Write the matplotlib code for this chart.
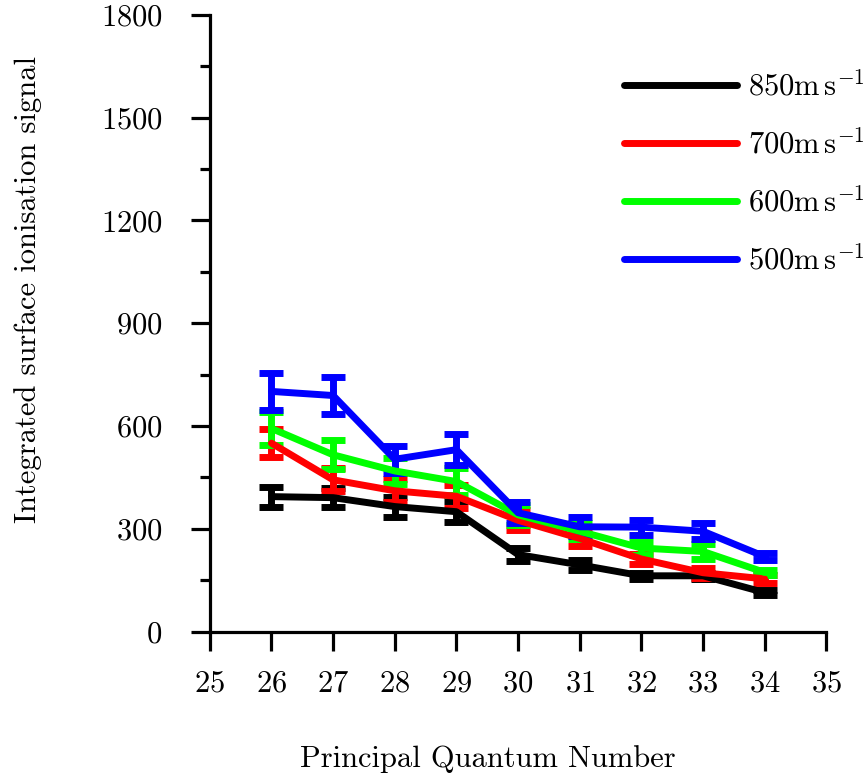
import matplotlib
matplotlib.use("Agg")
import matplotlib.pyplot as plt
from matplotlib.ticker import MultipleLocator

plt.rcParams["font.family"] = "serif"
plt.rcParams["font.serif"] = ["cmr10", "DejaVu Serif"]
plt.rcParams["mathtext.fontset"] = "cm"
plt.rcParams["axes.formatter.use_mathtext"] = True

n_values = [26, 27, 28, 29, 30, 31, 32, 33, 34]

labels = [r"$850\mathrm{m\,s}^{-1}$", r"$700\mathrm{m\,s}^{-1}$",
          r"$600\mathrm{m\,s}^{-1}$", r"$500\mathrm{m\,s}^{-1}$"]
colors = ["#000000", "#ff0000", "#00ff00", "#0000ff"]

signal_850 = [394, 391, 365, 350, 225, 195, 163, 163, 114]
err_850 = [29, 28, 29, 30, 19, 14, 9, 9, 8]
signal_700 = [550, 443, 411, 395, 325, 272, 212, 172, 154]
err_700 = [41, 34, 34, 34, 29, 21, 16, 15, 12]
signal_600 = [593, 516, 469, 438, 341, 293, 244, 234, 173]
err_600 = [47, 42, 38, 39, 29, 24, 19, 21, 8]
signal_500 = [701, 689, 503, 531, 347, 306, 305, 293, 219]
err_500 = [55, 54, 40, 46, 30, 28, 22, 24, 11]

series = [(signal_850, err_850), (signal_700, err_700),
          (signal_600, err_600), (signal_500, err_500)]

FS = 22

fig = plt.figure(figsize=(8.67, 7.76), dpi=100)
ax = fig.add_axes([0.242, 0.186, 0.711, 0.795])

handles = []
for (vals, errs), col, lab in zip(series, colors, labels):
    eb = ax.errorbar(n_values, vals, yerr=errs, color=col, lw=5,
                     elinewidth=5, capsize=9, capthick=5,
                     solid_capstyle="round", label=lab)
    for cap in eb[1]:
        cap.set_markersize(17)
    handles.append(eb[0])

ax.set_xlim(25, 35)
ax.set_ylim(0, 1800)
ax.xaxis.set_major_locator(MultipleLocator(1))
ax.yaxis.set_major_locator(MultipleLocator(300))
ax.yaxis.set_minor_locator(MultipleLocator(150))

for side in ["top", "right"]:
    ax.spines[side].set_visible(False)
for side in ["left", "bottom"]:
    ax.spines[side].set_linewidth(2.3)

ax.tick_params(axis="both", which="major", direction="out", length=14,
               width=2.3, labelsize=FS)
ax.tick_params(axis="x", which="major", pad=14)
ax.tick_params(axis="y", which="major", pad=20)
ax.tick_params(axis="y", which="minor", direction="out", length=7, width=2.3)
ax.tick_params(axis="x", which="minor", length=0)

ax.set_xlabel("Principal Quantum Number", fontsize=FS)
ax.xaxis.set_label_coords(0.4505, -0.184)
ax.set_ylabel("Integrated surface ionisation signal", fontsize=FS)
ax.yaxis.set_label_coords(-0.272, 0.554)

leg = ax.legend(handles, labels, loc="upper left",
                bbox_to_anchor=(0.72, 0.909), bbox_transform=fig.transFigure,
                frameon=False, fontsize=FS, handlelength=3.7,
                handletextpad=0.35, labelspacing=0.88, borderpad=0,
                borderaxespad=0)

fig.savefig("out.png", dpi=100)
